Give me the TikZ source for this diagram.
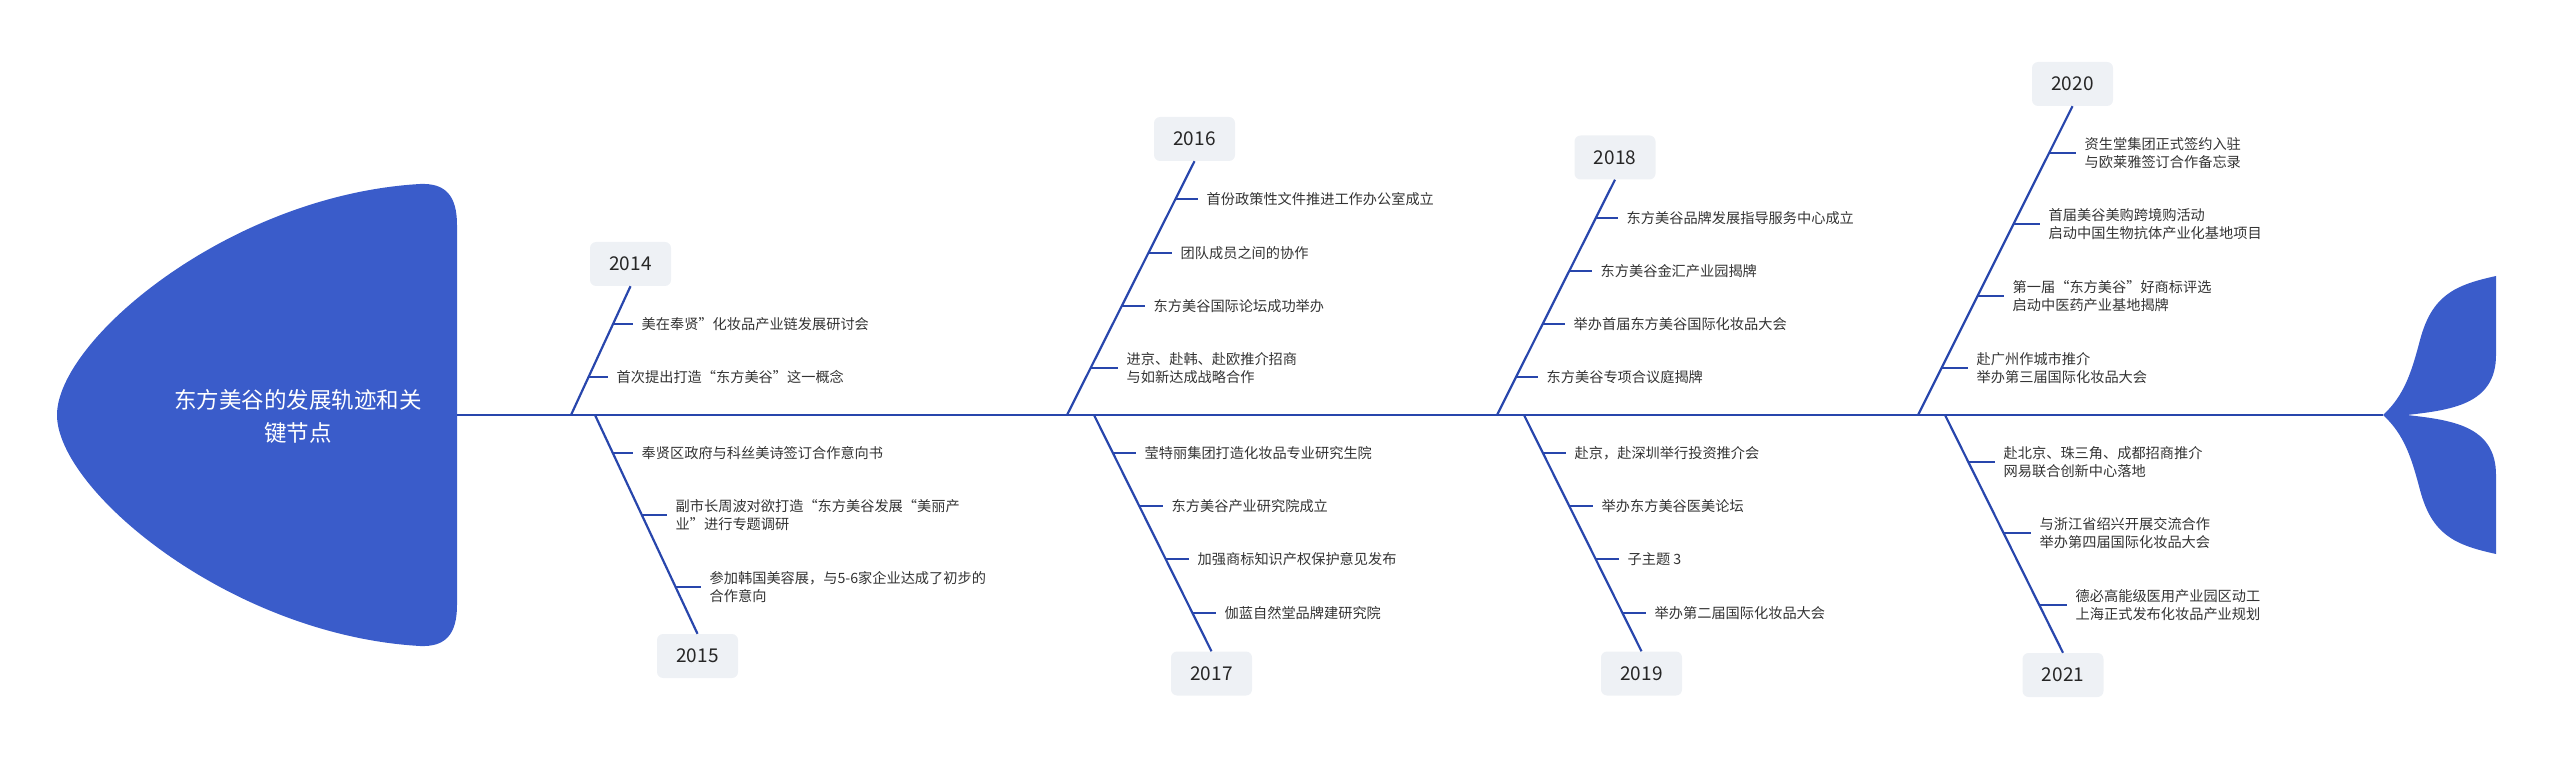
\documentclass[tikz,border=0pt]{standalone}
\usepackage{fontspec}
\setmainfont{Noto Sans CJK SC}
\usetikzlibrary{calc}
\definecolor{bone}{RGB}{40,70,172}
\definecolor{headfill}{RGB}{58,92,202}
\definecolor{yearfill}{RGB}{238,241,245}
\definecolor{itemtext}{RGB}{51,51,51}
\tikzset{
  bonestyle/.style={draw=bone, line width=2.2pt},
  tickstyle/.style={draw=bone, line width=2.2pt},
  year/.style={fill=yearfill, rounded corners=6pt, minimum width=81pt, minimum height=44pt, inner sep=0pt, font=\fontsize{19}{21}\selectfont, text=black!85},
  item/.style={anchor=west, inner xsep=8.5pt, inner ysep=0pt, align=left, font=\fontsize{14.2}{18}\selectfont, text=itemtext},
}
\begin{document}
\begin{tikzpicture}[x=1pt,y=-1pt]
\useasboundingbox (0,0) rectangle (2560,759);
% head
\fill[headfill] (57,415) .. controls (57,340) and (230,195) .. (420,184) .. controls (445,183) and (457,195) .. (457,225) -- (457,605) .. controls (457,635) and (445,647) .. (420,646) .. controls (230,635) and (57,490) .. (57,415) -- cycle;
\node[font=\fontsize{22.5}{33}\selectfont, text=white, align=center] (head) at (298,416) {东方美谷的发展轨迹和关\\键节点};
% tail
\fill[headfill] (2383,415) .. controls (2405,395) and (2412,370) .. (2420,340) .. controls (2432,295) and (2455,285) .. (2496,276) -- (2496,355) .. controls (2496,405) and (2450,410) .. (2407,415) .. controls (2450,420) and (2496,425) .. (2496,475) -- (2496,554) .. controls (2455,545) and (2432,535) .. (2420,490) .. controls (2412,460) and (2405,435) .. (2383,415) -- cycle;
% spine
\coordinate (spineL) at (457,415);
\coordinate (spineR) at (2383,415);
\draw[bonestyle] (spineL) -- (spineR);

% 2014
\node[year] (y14) at (630.5,264) {2014};
\coordinate (s14) at (571,415);
\draw[bonestyle] (s14) -- (y14.south);
\coordinate (b14a) at (613,324);
\node[item] (t14a) at (633,324) {美在奉贤”化妆品产业链发展研讨会};
\draw[tickstyle] (b14a) -- (t14a.west);
\coordinate (b14b) at (588.5,377);
\node[item] (t14b) at (608,377) {首次提出打造“东方美谷”这一概念};
\draw[tickstyle] (b14b) -- (t14b.west);

% 2015
\node[year] (y15) at (697.5,656) {2015};
\coordinate (s15) at (595,415);
\draw[bonestyle] (s15) -- (y15.north);
\coordinate (b15a) at (612.8,453);
\node[item] (t15a) at (633,453) {奉贤区政府与科丝美诗签订合作意向书};
\draw[tickstyle] (b15a) -- (t15a.west);
\coordinate (b15b) at (641.8,515);
\node[item] (t15b) at (667,515) {副市长周波对欲打造“东方美谷发展“美丽产\\业”进行专题调研};
\draw[tickstyle] (b15b) -- (t15b.west);
\coordinate (b15c) at (675.5,587);
\node[item] (t15c) at (701,587) {参加韩国美容展，与5-6家企业达成了初步的\\合作意向};
\draw[tickstyle] (b15c) -- (t15c.west);

% 2016
\node[year] (y16) at (1194.5,139) {2016};
\coordinate (s16) at (1067,415);
\draw[bonestyle] (s16) -- (y16.south);
\coordinate (b16a) at (1175.4,199);
\node[item] (t16a) at (1198,199) {首份政策性文件推进工作办公室成立};
\draw[tickstyle] (b16a) -- (t16a.west);
\coordinate (b16b) at (1148.3,253);
\node[item] (t16b) at (1172,253) {团队成员之间的协作};
\draw[tickstyle] (b16b) -- (t16b.west);
\coordinate (b16c) at (1121.7,306);
\node[item] (t16c) at (1145,306) {东方美谷国际论坛成功举办};
\draw[tickstyle] (b16c) -- (t16c.west);
\coordinate (b16d) at (1090.6,368);
\node[item] (t16d) at (1118,368) {进京、赴韩、赴欧推介招商\\与如新达成战略合作};
\draw[tickstyle] (b16d) -- (t16d.west);

% 2017
\node[year] (y17) at (1211.5,673.5) {2017};
\coordinate (s17) at (1094,415);
\draw[bonestyle] (s17) -- (y17.north);
\coordinate (b17a) at (1112.9,453);
\node[item] (t17a) at (1136,453) {莹特丽集团打造化妆品专业研究生院};
\draw[tickstyle] (b17a) -- (t17a.west);
\coordinate (b17b) at (1139.2,506);
\node[item] (t17b) at (1163,506) {东方美谷产业研究院成立};
\draw[tickstyle] (b17b) -- (t17b.west);
\coordinate (b17c) at (1165.6,559);
\node[item] (t17c) at (1189,559) {加强商标知识产权保护意见发布};
\draw[tickstyle] (b17c) -- (t17c.west);
\coordinate (b17d) at (1192.4,613);
\node[item] (t17d) at (1216,613) {伽蓝自然堂品牌建研究院};
\draw[tickstyle] (b17d) -- (t17d.west);

% 2018
\node[year] (y18) at (1615,157.5) {2018};
\coordinate (s18) at (1497,415);
\draw[bonestyle] (s18) -- (y18.south);
\coordinate (b18a) at (1595.7,218);
\node[item] (t18a) at (1618,218) {东方美谷品牌发展指导服务中心成立};
\draw[tickstyle] (b18a) -- (t18a.west);
\coordinate (b18b) at (1569.1,271);
\node[item] (t18b) at (1592,271) {东方美谷金汇产业园揭牌};
\draw[tickstyle] (b18b) -- (t18b.west);
\coordinate (b18c) at (1542.6,324);
\node[item] (t18c) at (1565,324) {举办首届东方美谷国际化妆品大会};
\draw[tickstyle] (b18c) -- (t18c.west);
\coordinate (b18d) at (1516,377);
\node[item] (t18d) at (1538,377) {东方美谷专项合议庭揭牌};
\draw[tickstyle] (b18d) -- (t18d.west);

% 2019
\node[year] (y19) at (1641.5,673.5) {2019};
\coordinate (s19) at (1524,415);
\draw[bonestyle] (s19) -- (y19.north);
\coordinate (b19a) at (1542.9,453);
\node[item] (t19a) at (1566,453) {赴京，赴深圳举行投资推介会};
\draw[tickstyle] (b19a) -- (t19a.west);
\coordinate (b19b) at (1569.2,506);
\node[item] (t19b) at (1593,506) {举办东方美谷医美论坛};
\draw[tickstyle] (b19b) -- (t19b.west);
\coordinate (b19c) at (1595.6,559);
\node[item] (t19c) at (1619,559) {子主题 3};
\draw[tickstyle] (b19c) -- (t19c.west);
\coordinate (b19d) at (1622.4,613);
\node[item] (t19d) at (1646,613) {举办第二届国际化妆品大会};
\draw[tickstyle] (b19d) -- (t19d.west);

% 2020
\node[year] (y20) at (2072.5,84) {2020};
\coordinate (s20) at (1918,415);
\draw[bonestyle] (s20) -- (y20.south);
\coordinate (b20a) at (2049,153);
\node[item] (t20a) at (2076,153) {资生堂集团正式签约入驻\\与欧莱雅签订合作备忘录};
\draw[tickstyle] (b20a) -- (t20a.west);
\coordinate (b20b) at (2013.5,224);
\node[item] (t20b) at (2040,224) {首届美谷美购跨境购活动\\启动中国生物抗体产业化基地项目};
\draw[tickstyle] (b20b) -- (t20b.west);
\coordinate (b20c) at (1977.5,296);
\node[item] (t20c) at (2004,296) {第一届“东方美谷”好商标评选\\启动中医药产业基地揭牌};
\draw[tickstyle] (b20c) -- (t20c.west);
\coordinate (b20d) at (1941.5,368);
\node[item] (t20d) at (1968,368) {赴广州作城市推介\\举办第三届国际化妆品大会};
\draw[tickstyle] (b20d) -- (t20d.west);

% 2021
\node[year] (y21) at (2063,675) {2021};
\coordinate (s21) at (1945,415);
\draw[bonestyle] (s21) -- (y21.north);
\coordinate (b21a) at (1968.3,462);
\node[item] (t21a) at (1995,462) {赴北京、珠三角、成都招商推介\\网易联合创新中心落地};
\draw[tickstyle] (b21a) -- (t21a.west);
\coordinate (b21b) at (2003.5,533);
\node[item] (t21b) at (2031,533) {与浙江省绍兴开展交流合作\\举办第四届国际化妆品大会};
\draw[tickstyle] (b21b) -- (t21b.west);
\coordinate (b21c) at (2039.2,605);
\node[item] (t21c) at (2067,605) {德必高能级医用产业园区动工\\上海正式发布化妆品产业规划};
\draw[tickstyle] (b21c) -- (t21c.west);
\end{tikzpicture}
\end{document}
